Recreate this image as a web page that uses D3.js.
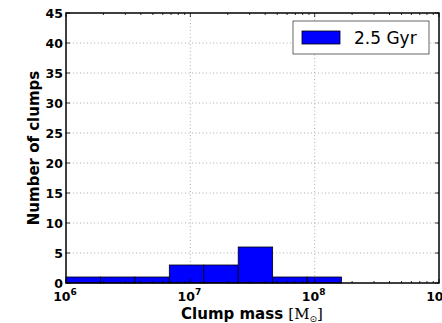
<!DOCTYPE html>
<html>
<head>
<meta charset="utf-8">
<script src="https://cdn.jsdelivr.net/npm/d3@7"></script>
<style>
  body { margin: 0; background: #fff; }
  svg { display: block; }
</style>
</head>
<body>
<svg width="442" height="323"></svg>
<script>
// histogram bin edges (log10 of clump mass) and counts
binEdges = [6.0, 6.277, 6.554, 6.831, 7.108, 7.385, 7.662, 7.939, 8.216];
counts = [1, 1, 1, 3, 3, 6, 1, 1];
xTicks = [6, 7, 8, 9];
yTicks = [0, 5, 10, 15, 20, 25, 30, 35, 40, 45];
seriesName = "2.5 Gyr";

const margin = {left: 66, right: 3, top: 13, bottom: 40};
const W = 442, H = 323;

function draw() {
  const svg = d3.select("svg");
  const x = d3.scaleLinear().domain([6, 9]).range([margin.left, W - margin.right]);
  const y = d3.scaleLinear().domain([0, 45]).range([H - margin.bottom, margin.top]);

  // grid
  const grid = svg.append("g")
      .attr("stroke", "#999")
      .attr("stroke-width", 0.8)
      .attr("stroke-dasharray", "1,2.5");
  grid.selectAll("line.gx")
    .data(xTicks.slice(1, -1))
    .join("line")
      .attr("x1", d => x(d)).attr("x2", d => x(d))
      .attr("y1", y(0)).attr("y2", y(45));
  grid.selectAll("line.gy")
    .data(yTicks.slice(1, -1))
    .join("line")
      .attr("x1", x(6)).attr("x2", x(9))
      .attr("y1", d => y(d)).attr("y2", d => y(d));

  // bars
  svg.append("g")
    .selectAll("rect")
    .data(counts)
    .join("rect")
      .attr("x", (d, i) => x(binEdges[i]))
      .attr("width", (d, i) => x(binEdges[i + 1]) - x(binEdges[i]))
      .attr("y", d => y(d))
      .attr("height", d => y(0) - y(d))
      .attr("fill", "#0000ff")
      .attr("stroke", "#000")
      .attr("stroke-width", 0.8);

  // minor log ticks along x (inside)
  const minor = [];
  for (let e = 6; e < 9; e++) for (let k = 2; k < 10; k++) minor.push(e + Math.log10(k));
  const tickG = svg.append("g").attr("stroke", "#000").attr("stroke-width", 0.8);
  minor.forEach(m => {
    tickG.append("line").attr("x1", x(m)).attr("x2", x(m)).attr("y1", y(0)).attr("y2", y(0) - 2);
    tickG.append("line").attr("x1", x(m)).attr("x2", x(m)).attr("y1", y(45)).attr("y2", y(45) + 2);
  });
  xTicks.forEach(t => {
    tickG.append("line").attr("x1", x(t)).attr("x2", x(t)).attr("y1", y(0)).attr("y2", y(0) - 4);
    tickG.append("line").attr("x1", x(t)).attr("x2", x(t)).attr("y1", y(45)).attr("y2", y(45) + 4);
  });
  yTicks.forEach(t => {
    tickG.append("line").attr("x1", x(6)).attr("x2", x(6) + 4).attr("y1", y(t)).attr("y2", y(t));
    tickG.append("line").attr("x1", x(9)).attr("x2", x(9) - 4).attr("y1", y(t)).attr("y2", y(t));
  });

  // frame
  svg.append("rect")
      .attr("x", x(6)).attr("y", y(45))
      .attr("width", x(9) - x(6)).attr("height", y(0) - y(45))
      .attr("fill", "none")
      .attr("stroke", "#000")
      .attr("stroke-width", 1.5);

  const font = "'DejaVu Sans', sans-serif";

  // y tick labels
  svg.append("g")
    .selectAll("text")
    .data(yTicks)
    .join("text")
      .attr("x", x(6) - 3)
      .attr("y", d => y(d))
      .attr("dy", "0.36em")
      .attr("text-anchor", "end")
      .attr("font-family", font)
      .attr("font-weight", "bold")
      .attr("font-size", 12.5)
      .text(d => d);

  // x tick labels: 10^n
  const xl = svg.append("g")
    .selectAll("text")
    .data(xTicks)
    .join("text")
      .attr("x", d => x(d) - 1)
      .attr("y", y(0) + 18)
      .attr("text-anchor", "middle")
      .attr("font-family", font)
      .attr("font-weight", "bold")
      .attr("font-size", 12.5);
  xl.append("tspan").text("10");
  xl.append("tspan")
      .attr("dy", -6)
      .attr("font-size", 9)
      .text(d => d);

  // axis labels
  svg.append("text")
      .attr("transform", `translate(39,${(y(0) + y(45)) / 2}) rotate(-90)`)
      .attr("text-anchor", "middle")
      .attr("font-family", font)
      .attr("font-weight", "bold")
      .attr("font-size", 15)
      .text("Number of clumps");

  const xlab = svg.append("text")
      .attr("x", 252)
      .attr("y", 319)
      .attr("text-anchor", "middle")
      .attr("font-family", font)
      .attr("font-weight", "bold")
      .attr("font-size", 15);
  xlab.append("tspan").text("Clump mass ");
  xlab.append("tspan")
      .attr("font-family", "'DejaVu Serif', serif")
      .attr("font-weight", "normal")
      .text("[M");
  xlab.append("tspan")
      .attr("font-family", "'DejaVu Sans', sans-serif")
      .attr("font-weight", "normal")
      .attr("font-size", 9)
      .attr("dy", 3)
      .text("\u2299");
  xlab.append("tspan")
      .attr("font-family", "'DejaVu Serif', serif")
      .attr("font-weight", "normal")
      .attr("dy", -3)
      .text("]");

  // legend
  const lg = svg.append("g");
  lg.append("rect")
      .attr("x", 293).attr("y", 21)
      .attr("width", 136).attr("height", 33)
      .attr("fill", "#fff")
      .attr("stroke", "#000")
      .attr("stroke-width", 0.6);
  lg.append("rect")
      .attr("x", 302).attr("y", 31)
      .attr("width", 38).attr("height", 13)
      .attr("fill", "#0000ff")
      .attr("stroke", "#000")
      .attr("stroke-width", 0.8);
  lg.append("text")
      .attr("x", 354).attr("y", 37.5)
      .attr("dy", "0.36em")
      .attr("font-family", font)
      .attr("font-size", 17)
      .text(seriesName);
}

draw();
</script>
</body>
</html>
